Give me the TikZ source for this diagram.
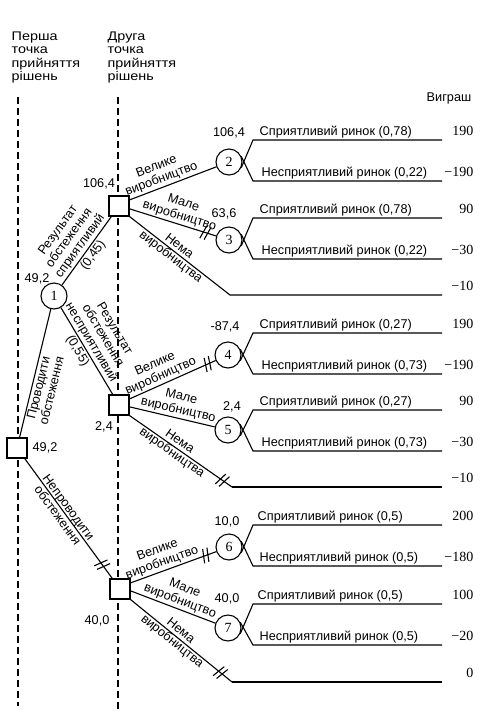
\documentclass[tikz,border=0pt]{standalone}
\usepackage{fontspec}
\setmainfont{Liberation Sans}
\newfontfamily\numfont{Liberation Serif}
\newfontfamily\widefont[FakeStretch=1.15]{Liberation Sans}
\usetikzlibrary{decorations.markings}

\begin{document}
\begin{tikzpicture}[
x=1pt, y=-1pt,
every node/.style={font=\fontsize{12.7}{13.5}\selectfont, inner sep=1.5pt},
dec/.style={draw, fill=white, line width=1.1pt, minimum size=20pt, inner sep=0pt},
chance/.style={
draw,
circle,
fill=white,
line width=1.1pt,
minimum size=26pt,
inner sep=0pt,
font=\numfont\fontsize{14}{14}\selectfont
},
link/.style={line width=1.1pt},
stage/.style={line width=2pt, dash pattern=on 7pt off 4pt},
lbl/.style={sloped, align=center},
prune/.style={postaction={decorate, decoration={markings,
mark=at position #1 with {\draw[line width=1.1pt] (-3pt,-7pt) -- (0pt,7pt) (1.5pt,-7pt) -- (4.5pt,7pt);}}}},
pay/.style={anchor=base east, font=\numfont\fontsize{14}{14}\selectfont},
outcome/.style={anchor=base west},
head/.style={anchor=north west, align=left, font=\widefont\fontsize{12.5}{13.5}\selectfont}
]
\useasboundingbox (0,0) rectangle (485,716);
\draw[stage] (18,97) -- (18,706);
\draw[stage] (118,97) -- (118,710);

\node[head] (h1) at (10,30)
{Перша\\точка\\прийняття\\рішень};
\node[head] (h2) at (106,30)
{Друга\\точка\\прийняття\\рішень};
\node (h3) at (449,98) {Виграш};

\node[dec] (d0) at (17,448) {};
\node[chance] (n1) at (54,296) {1};
\node[dec] (d1) at (119,206) {};
\node[dec] (d2) at (119,405) {};
\node[dec] (d3) at (120,589) {};
\node[chance] (n2) at (229,162) {2};
\node[chance] (n3) at (229,240) {3};
\node[chance] (n4) at (228,355) {4};
\node[chance] (n5) at (228,430) {5};
\node[chance] (n6) at (229,547) {6};
\node[chance] (n7) at (228,628) {7};

\node (v0) at (45,448) {49,2};
\node (v1) at (37,279) {49,2};
\node (v2) at (99,184) {106,4};
\node (v3) at (104,427) {2,4};
\node (v4) at (97,621) {40,0};
\node (v5) at (229,133) {106,4};
\node (v6) at (224,214) {63,6};
\node (v7) at (225,327) {-87,4};
\node (v8) at (232,407) {2,4};
\node (v9) at (227,522) {10,0};
\node (v10) at (227,599) {40,0};

\coordinate (e1) at (230,295);
\coordinate (e1r) at (442,295);
\coordinate (e2) at (232,487);
\coordinate (e2r) at (442,487);
\coordinate (e3) at (232,682);
\coordinate (e3r) at (442,682);

\draw[link] (d0) -- node[lbl,below,pos=0.4] {Проводити\\обстеження} (n1);
\draw[link,prune=0.88] (d0) -- node[lbl,pos=0.44] {Непроводити\\обстеження} (d3);
\draw[link] (n1) -- node[lbl,above,pos=0.5] {Результат\\обстеження\\сприятливий}
node[lbl,below,pos=0.5] {(0,45)} (d1);
\draw[link] (n1) -- node[lbl,above,pos=0.45] {Результат\\обстеження\\несприятливий}
node[lbl,below,pos=0.45] {(0,55)} (d2);

\draw[link] (d1.30) -- node[lbl,above,pos=0.4] {Велике\\виробництво} (n2);
\draw[link,prune=0.87] (d1.-15) -- node[lbl,above,pos=0.55] {Мале\\виробництво} (n3);
\draw[link] (d1.south east) -- node[lbl,pos=0.45] {Нема\\виробництва} (e1) -- (e1r);

\draw[link,prune=0.9] (d2.30) -- node[lbl,above,pos=0.4] {Велике\\виробництво} (n4);
\draw[link] (d2.-10) -- node[lbl,above,pos=0.55] {Мале\\виробництво} (n5);
\draw[link,prune=0.9] (d2.south east) -- node[lbl,pos=0.45] {Нема\\виробництва} (e2);
\draw[link] (e2) -- (e2r);

\draw[link,prune=0.87] (d3.30) -- node[lbl,above,pos=0.4] {Велике\\виробництво} (n6);
\draw[link] (d3.-10) -- node[lbl,above,pos=0.55] {Мале\\виробництво} (n7);
\draw[link,prune=0.88] (d3.south east) -- node[lbl,pos=0.45] {Нема\\виробництва} (e3);
\draw[link] (e3) -- (e3r);

\coordinate (n2a) at (253,140); \coordinate (n2b) at (442,140);
\coordinate (n2c) at (253,181); \coordinate (n2d) at (442,181);
\coordinate (n3a) at (253,218); \coordinate (n3b) at (442,218);
\coordinate (n3c) at (253,259); \coordinate (n3d) at (442,259);
\coordinate (n4a) at (253,333); \coordinate (n4b) at (442,333);
\coordinate (n4c) at (253,374); \coordinate (n4d) at (442,374);
\coordinate (n5a) at (253,410); \coordinate (n5b) at (442,410);
\coordinate (n5c) at (253,451); \coordinate (n5d) at (442,451);
\coordinate (n6a) at (253,525); \coordinate (n6b) at (442,525);
\coordinate (n6c) at (253,566); \coordinate (n6d) at (442,566);
\coordinate (n7a) at (253,604); \coordinate (n7b) at (442,604);
\coordinate (n7c) at (253,645); \coordinate (n7d) at (442,645);

\draw[link] (n2.-25) -- (n2a) -- (n2b);
\draw[link] (n2.25) -- (n2c) -- (n2d);
\draw[link] (n3.-25) -- (n3a) -- (n3b);
\draw[link] (n3.25) -- (n3c) -- (n3d);
\draw[link] (n4.-25) -- (n4a) -- (n4b);
\draw[link] (n4.25) -- (n4c) -- (n4d);
\draw[link] (n5.-25) -- (n5a) -- (n5b);
\draw[link] (n5.25) -- (n5c) -- (n5d);
\draw[link] (n6.-25) -- (n6a) -- (n6b);
\draw[link] (n6.25) -- (n6c) -- (n6d);
\draw[link] (n7.-25) -- (n7a) -- (n7b);
\draw[link] (n7.25) -- (n7c) -- (n7d);

\node[outcome] (o1) at (258,135) {Сприятливий ринок (0,78)};
\node[outcome] (o2) at (260,176) {Несприятливий ринок (0,22)};
\node[outcome] (o3) at (258,213) {Сприятливий ринок (0,78)};
\node[outcome] (o4) at (260,254) {Несприятливий ринок (0,22)};
\node[outcome] (o5) at (258,328) {Сприятливий ринок (0,27)};
\node[outcome] (o6) at (260,369) {Несприятливий ринок (0,73)};
\node[outcome] (o7) at (258,405) {Сприятливий ринок (0,27)};
\node[outcome] (o8) at (260,446) {Несприятливий ринок (0,73)};
\node[outcome] (o9) at (256,520) {Сприятливий ринок (0,5)};
\node[outcome] (o10) at (258,561) {Несприятливий ринок (0,5)};
\node[outcome] (o11) at (256,599) {Сприятливий ринок (0,5)};
\node[outcome] (o12) at (258,640) {Несприятливий ринок (0,5)};

\node[pay] (p1) at (475,135) {190};
\node[pay] (p2) at (475,176) {−190};
\node[pay] (p3) at (475,213) {90};
\node[pay] (p4) at (475,254) {−30};
\node[pay] (p5) at (475,290) {−10};
\node[pay] (p6) at (475,328) {190};
\node[pay] (p7) at (475,369) {−190};
\node[pay] (p8) at (475,405) {90};
\node[pay] (p9) at (475,446) {−30};
\node[pay] (p10) at (475,482) {−10};
\node[pay] (p11) at (475,520) {200};
\node[pay] (p12) at (475,561) {−180};
\node[pay] (p13) at (475,599) {100};
\node[pay] (p14) at (475,640) {−20};
\node[pay] (p15) at (475,677) {0};
\end{tikzpicture}
\end{document}
